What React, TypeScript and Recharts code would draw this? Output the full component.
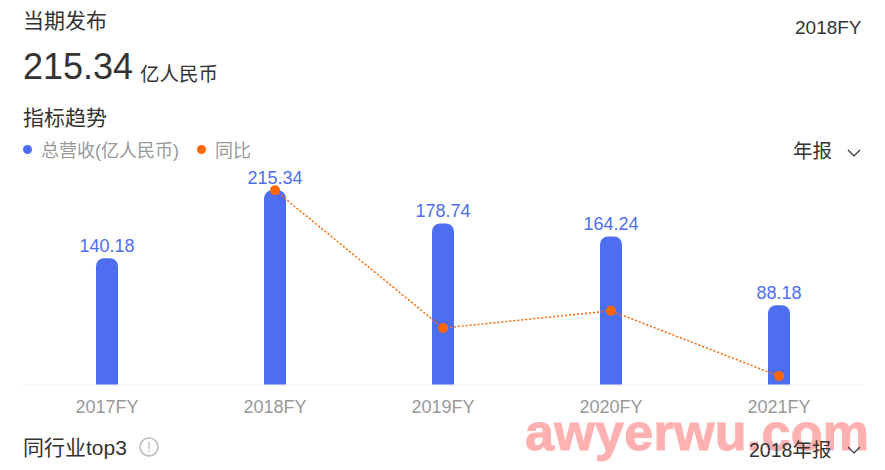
import React from 'react';
import { ComposedChart, Bar, Line, XAxis, YAxis, LabelList, Legend } from 'recharts';

const years = ['2017FY', '2018FY', '2019FY', '2020FY', '2021FY'];
const revenue = [140.18, 215.34, 178.74, 164.24, 88.18];
const yoy = [null, 53.6, -17.5, -8.6, -42.3];

const data = years.map((name, i) => ({ name, revenue: revenue[i], yoy: yoy[i] }));

const BLUE = '#4e6ef2';
const ORANGE = '#ff6600';
const FONT = 'Arial, "Liberation Sans", "Noto Sans CJK SC", sans-serif';

const text = (left: number, top: number, fontSize: number, color: string, extra = {}) => ({
  position: 'absolute' as const,
  left,
  top,
  fontSize,
  color,
  lineHeight: 1,
  whiteSpace: 'nowrap' as const,
  ...extra,
});

const Chevron = ({ x, y }: { x: number; y: number }) => (
  <svg style={{ position: 'absolute', left: x, top: y }} width={16} height={10}>
    <polyline points="2,2 8,8 14,2" fill="none" stroke="#333" strokeWidth={1.2} />
  </svg>
);

const LegendContent = () => (
  <div style={{ position: 'relative', width: 260, height: 20, fontSize: 18, color: '#999' }}>
    <span style={{ position: 'absolute', left: 0, top: 6, width: 9, height: 9, borderRadius: 5, background: BLUE }} />
    <span style={{ position: 'absolute', left: 18, top: -3, whiteSpace: 'nowrap' }}>总营收(亿人民币)</span>
    <span style={{ position: 'absolute', left: 174, top: 6, width: 9, height: 9, borderRadius: 5, background: ORANGE }} />
    <span style={{ position: 'absolute', left: 192, top: -3, whiteSpace: 'nowrap' }}>同比</span>
  </div>
);

export default function App() {
  return (
    <div style={{ position: 'absolute', left: 0, top: 0, width: 885, height: 470, overflow: 'hidden', background: '#fff', fontFamily: FONT }}>
      <ComposedChart
        width={885}
        height={470}
        data={data}
        margin={{ top: 168, right: 22, bottom: 55, left: 23 }}
        style={{ position: 'absolute', left: 0, top: 0 }}
      >
        <XAxis
          dataKey="name"
          height={30}
          tickLine={false}
          axisLine={{ stroke: '#f0f0f0' }}
          tick={{ fill: '#999', fontSize: 18 }}
          tickMargin={9}
        />
        <YAxis yAxisId="left" hide domain={[0, 240]} />
        <YAxis yAxisId="right" hide orientation="right" domain={[-46.9, 65.1]} />
        <Legend
          layout="vertical"
          align="center"
          verticalAlign="middle"
          content={<LegendContent />}
          wrapperStyle={{ left: 23, top: 139, width: 260, height: 20 }}
        />
        <Bar yAxisId="left" dataKey="revenue" barSize={22} fill={BLUE} radius={[8, 8, 0, 0]} isAnimationActive={false}>
          <LabelList dataKey="revenue" position="top" fill={BLUE} fontSize={18} offset={6} />
        </Bar>
        <Line
          yAxisId="right"
          dataKey="yoy"
          stroke={ORANGE}
          strokeWidth={1.5}
          strokeDasharray="2 2"
          dot={{ r: 5, fill: ORANGE, stroke: ORANGE, strokeWidth: 0 }}
          isAnimationActive={false}
        />
      </ComposedChart>

      <div style={text(23, 10, 21, '#333')}>当期发布</div>
      <div style={text(23, 49, 36, '#333')}>215.34</div>
      <div style={text(140, 65, 19.5, '#333')}>亿人民币</div>
      <div style={text(23, 107, 21, '#333')}>指标趋势</div>
      <div style={text(795, 18, 19, '#333')}>2018FY</div>
      <div style={text(793, 142, 19.5, '#333')}>年报</div>
      <Chevron x={846} y={148} />
      <div style={text(23, 437, 21, '#333')}>同行业top3</div>
      <svg style={{ position: 'absolute', left: 139, top: 436 }} width={22} height={22}>
        <circle cx={10} cy={11} r={9} fill="none" stroke="#bbb" strokeWidth={1.5} />
        <text x={10} y={16} textAnchor="middle" fontSize={14} fill="#bbb">!</text>
      </svg>
      <div style={text(525, 406, 52, '#ffb1b1', { fontWeight: 700, letterSpacing: 0.3, WebkitTextStroke: '1px #ffb1b1' })}>awyerwu.com</div>
      <div style={text(749, 441, 19.5, '#333')}>2018年报</div>
      <Chevron x={846} y={445} />
    </div>
  );
}
